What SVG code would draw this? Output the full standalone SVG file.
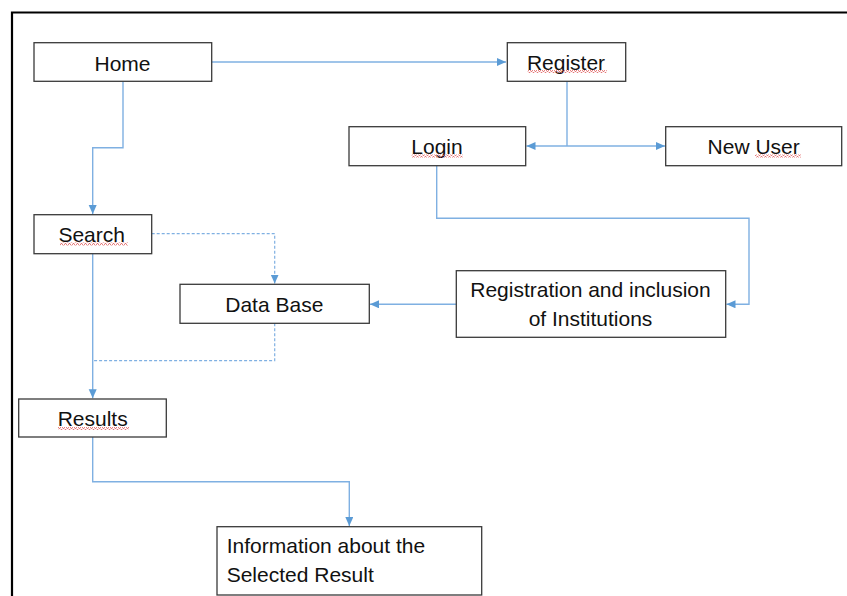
<svg xmlns="http://www.w3.org/2000/svg" width="847" height="596" viewBox="0 0 847 596">
<style>
.box{fill:#fff;stroke:#3a3a3a;stroke-width:1.3}
.lbl{font-family:"Liberation Sans",Arial,sans-serif;font-size:21px;fill:#111}
.c{fill:none;stroke:#7fb0e2;stroke-width:1.4}
.d{fill:none;stroke:#7fb0e2;stroke-width:1.2;stroke-dasharray:3,2}
</style>
<defs>
<marker id="ah" markerUnits="userSpaceOnUse" markerWidth="10" markerHeight="10" refX="9" refY="4" orient="auto">
<path d="M0,0 L9,4 L0,8 z" fill="#5b9bd5"/>
</marker>
<pattern id="squig" patternUnits="userSpaceOnUse" width="4" height="3">
<path d="M0,2.5 L1,0.5 L2,0.5 L3,2.5 L4,2.5" fill="none" stroke="#e06060" stroke-width="0.8"/>
</pattern>
</defs>
<rect width="847" height="596" fill="#fff"/>
<path d="M12,596 V12.5 H847" fill="none" stroke="#000" stroke-width="2.2"/>

<g id="connectors">
<path class="c" d="M211.7,62 H506" marker-end="url(#ah)"/>
<path class="c" d="M567,81.3 V146"/>
<path class="c" d="M567,146 H526.5" marker-end="url(#ah)"/>
<path class="c" d="M567,146 H665" marker-end="url(#ah)"/>
<path class="c" d="M436.7,165.7 V218.3 H749 V304.3 H726.5" marker-end="url(#ah)"/>
<path class="c" d="M456.3,304.3 H370" marker-end="url(#ah)"/>
<path class="c" d="M123,81.3 V147.7 H92.7 V214" marker-end="url(#ah)"/>
<path class="d" d="M151.7,233.7 H274.7 V283.6" marker-end="url(#ah)"/>
<path class="d" d="M274.7,323.3 V360.7 H92.7"/>
<path class="c" d="M92.7,253.7 V398.3" marker-end="url(#ah)"/>
<path class="c" d="M92.7,437 V481.7 H349.3 V526" marker-end="url(#ah)"/>
</g>

<g id="home">
<rect class="box" x="34" y="42.7" width="177.7" height="38.6"/>
<text class="lbl" x="122.5" y="70.5" text-anchor="middle">Home</text>
</g>
<g id="register">
<rect class="box" x="507.3" y="42.7" width="118.4" height="38.6"/>
<text class="lbl" x="566" y="69.5" text-anchor="middle">Register</text>
<rect x="527.7" y="70" width="79" height="3" fill="url(#squig)"/>
</g>
<g id="login">
<rect class="box" x="349" y="126.7" width="176.7" height="39"/>
<text class="lbl" x="437" y="154" text-anchor="middle">Login</text>
<rect x="411.7" y="154.5" width="51" height="3" fill="url(#squig)"/>
</g>
<g id="newuser">
<rect class="box" x="665.7" y="126.7" width="176" height="39"/>
<text class="lbl" x="753.7" y="154" text-anchor="middle">New User</text>
<rect x="755" y="154.5" width="46" height="3" fill="url(#squig)"/>
</g>
<g id="search">
<rect class="box" x="34" y="214.7" width="117.7" height="39"/>
<text class="lbl" x="91.7" y="241.7" text-anchor="middle">Search</text>
<rect x="60" y="242.5" width="68" height="3" fill="url(#squig)"/>
</g>
<g id="database">
<rect class="box" x="180" y="284.3" width="189.3" height="39"/>
<text class="lbl" x="274.3" y="311.7" text-anchor="middle">Data Base</text>
</g>
<g id="registration">
<rect class="box" x="456.3" y="270.7" width="269.4" height="66.6"/>
<text class="lbl" x="590.5" y="297.3" text-anchor="middle">Registration and inclusion</text>
<text class="lbl" x="590.5" y="325.7" text-anchor="middle">of Institutions</text>
</g>
<g id="results">
<rect class="box" x="18.7" y="399" width="147.6" height="38"/>
<text class="lbl" x="92.7" y="425.7" text-anchor="middle">Results</text>
<rect x="58" y="427" width="71" height="3" fill="url(#squig)"/>
</g>
<g id="info">
<rect class="box" x="217" y="526.7" width="264.7" height="68.3"/>
<text class="lbl" x="226.7" y="553.3">Information about the</text>
<text class="lbl" x="226.7" y="581.7">Selected Result</text>
</g>
</svg>
